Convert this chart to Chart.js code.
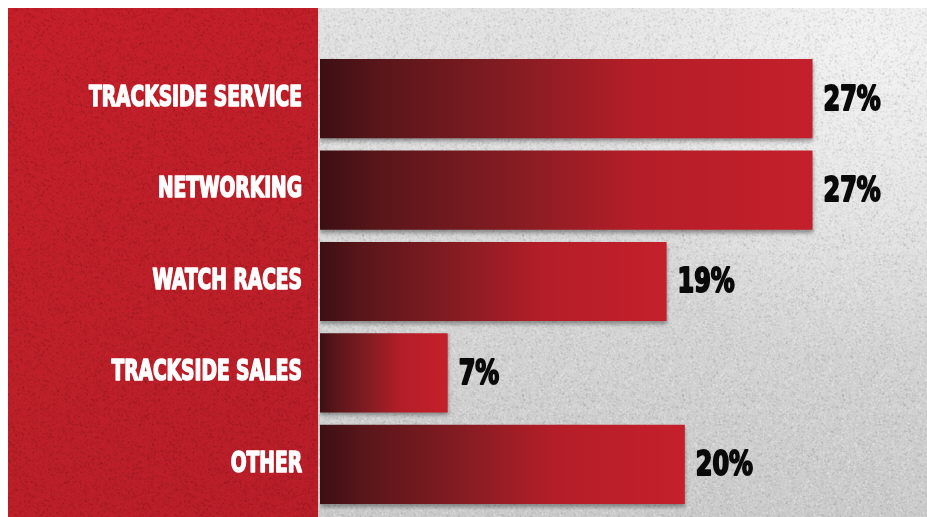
<!DOCTYPE html>
<html>
<head>
<meta charset="utf-8">
<script src="https://cdn.jsdelivr.net/npm/chart.js@4.4.1/dist/chart.umd.min.js"></script>
<style>
  html, body { margin: 0; padding: 0; background: #fff; }
  #wrap { width: 927px; height: 517px; }
</style>
</head>
<body>
<div id="wrap"><canvas id="reasonChart" width="927" height="517"></canvas></div>
<script>
// survey answers, percent of respondents
const reasons = ["TRACKSIDE SERVICE", "NETWORKING", "WATCH RACES", "TRACKSIDE SALES", "OTHER"];
const shares = [27, 27, 19, 7, 20];
const axisMax = 33;

const PANEL_RIGHT = 318;
const LABEL_FONT = "bold 28px 'DejaVu Sans Condensed', 'DejaVu Sans', sans-serif";
const VALUE_FONT = "bold 34px 'DejaVu Sans Condensed', 'DejaVu Sans', sans-serif";

// grain tile for the concrete / paper look
function makeGrain(size, dark, light) {
  const c = document.createElement('canvas');
  c.width = c.height = size;
  const g = c.getContext('2d');
  for (let i = 0; i < size * size * 0.3; i++) {
    const x = Math.random() * size, y = Math.random() * size;
    g.fillStyle = Math.random() < 0.5 ? dark : light;
    g.fillRect(x, y, 1.5, 1.5);
  }
  return c;
}
const greyGrain = makeGrain(160, 'rgba(90,90,90,0.09)', 'rgba(255,255,255,0.18)');
const redGrain = makeGrain(160, 'rgba(60,0,5,0.10)', 'rgba(230,60,70,0.08)');

const backdrop = {
  id: 'backdrop',
  beforeDraw(chart) {
    const { ctx, width, height } = chart;
    ctx.save();
    ctx.fillStyle = '#ffffff';
    ctx.fillRect(0, 0, width, height);

    // grey wall behind the bars
    let g = ctx.createLinearGradient(0, 8, 0, height);
    g.addColorStop(0, '#e2e2e2');
    g.addColorStop(0.5, '#d6d6d6');
    g.addColorStop(1, '#cacaca');
    ctx.fillStyle = g;
    ctx.fillRect(PANEL_RIGHT, 8, width - PANEL_RIGHT, height - 8);
    let r = ctx.createRadialGradient(870, 40, 10, 870, 40, 320);
    r.addColorStop(0, 'rgba(246,246,246,0.8)');
    r.addColorStop(1, 'rgba(246,246,246,0)');
    ctx.fillStyle = r;
    ctx.fillRect(PANEL_RIGHT, 8, width - PANEL_RIGHT, height - 8);
    ctx.fillStyle = ctx.createPattern(greyGrain, 'repeat');
    ctx.fillRect(PANEL_RIGHT, 8, width - PANEL_RIGHT, height - 8);

    // red label panel
    g = ctx.createLinearGradient(8, 8, PANEL_RIGHT, height);
    g.addColorStop(0, '#c51f2a');
    g.addColorStop(0.6, '#bd1f29');
    g.addColorStop(1, '#b81d28');
    ctx.fillStyle = g;
    ctx.fillRect(8, 8, PANEL_RIGHT - 8, height - 8);
    ctx.fillStyle = ctx.createPattern(redGrain, 'repeat');
    ctx.fillRect(8, 8, PANEL_RIGHT - 8, height - 8);
    ctx.restore();
  }
};

// drop shadow under the bars
const barShadow = {
  id: 'barShadow',
  beforeDatasetsDraw(chart) {
    const ctx = chart.ctx;
    ctx.save();
    ctx.shadowColor = 'rgba(40,40,40,0.45)';
    ctx.shadowBlur = 4;
    ctx.shadowOffsetY = 3;
  },
  afterDatasetsDraw(chart) {
    chart.ctx.restore();
  }
};

// narrow, heavy poster lettering
function squeezedText(ctx, text, x, y, align, squeeze, weight) {
  ctx.save();
  ctx.translate(x, y);
  ctx.scale(squeeze, 1);
  ctx.textAlign = align;
  ctx.textBaseline = 'middle';
  ctx.strokeStyle = ctx.fillStyle;
  ctx.lineWidth = weight;
  ctx.lineJoin = 'round';
  ctx.strokeText(text, 0, 0);
  ctx.fillText(text, 0, 0);
  ctx.restore();
}

// category names on the red panel, percentages after each bar
const barText = {
  id: 'barText',
  afterDraw(chart) {
    const { ctx, scales } = chart;
    ctx.save();
    reasons.forEach((name, i) => {
      const y = scales.y.getPixelForValue(i);
      ctx.font = LABEL_FONT;
      ctx.fillStyle = '#ffffff';
      squeezedText(ctx, name, 302, y, 'right', 0.74, 1.6);
      ctx.font = VALUE_FONT;
      ctx.fillStyle = '#0a0a0a';
      squeezedText(ctx, shares[i] + '%', scales.x.getPixelForValue(shares[i]) + 11, y + 2, 'left', 0.78, 2);
    });
    ctx.restore();
  }
};

function barFill(context) {
  const chart = context.chart;
  if (!chart.chartArea || context.dataIndex === undefined) return '#c21f2b';
  const x = chart.scales.x;
  const left = x.getPixelForValue(0);
  const right = x.getPixelForValue(shares[context.dataIndex]);
  const g = chart.ctx.createLinearGradient(left, 0, right, 0);
  g.addColorStop(0, '#3c0f14');
  g.addColorStop(0.12, '#59161a');
  g.addColorStop(0.38, '#831c22');
  g.addColorStop(0.64, '#b41e28');
  g.addColorStop(1, '#c4202b');
  return g;
}

new Chart(document.getElementById('reasonChart'), {
  type: 'bar',
  data: {
    labels: reasons,
    datasets: [{
      data: shares,
      backgroundColor: barFill,
      borderWidth: 0,
      categoryPercentage: 1,
      barPercentage: 0.866
    }]
  },
  options: {
    indexAxis: 'y',
    responsive: false,
    devicePixelRatio: 1,
    animation: false,
    layout: { padding: { left: 320, right: 5, top: 53, bottom: 7 } },
    plugins: {
      legend: { display: false },
      tooltip: { enabled: false }
    },
    scales: {
      x: { display: false, min: 0, max: axisMax },
      y: { display: false }
    }
  },
  plugins: [backdrop, barShadow, barText]
});
</script>
</body>
</html>
